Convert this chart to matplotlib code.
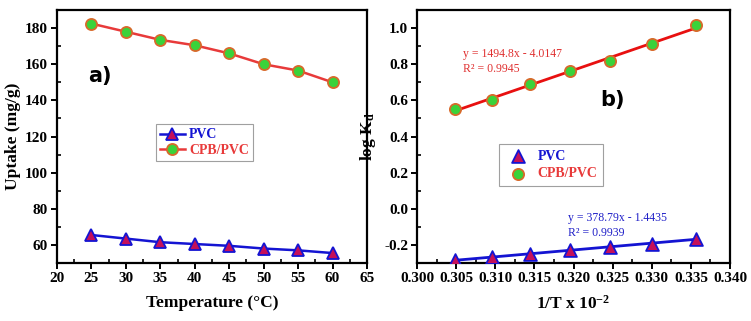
import matplotlib
matplotlib.use('Agg')
import matplotlib.pyplot as plt
from matplotlib.ticker import MultipleLocator, FormatStrFormatter
import numpy as np

plt.rcParams['font.family'] = ['Liberation Serif', 'DejaVu Serif']
plt.rcParams['font.weight'] = 'bold'
plt.rcParams['mathtext.fontset'] = 'custom'
plt.rcParams['mathtext.rm'] = 'Liberation Serif:bold'
plt.rcParams['mathtext.bf'] = 'Liberation Serif:bold'
plt.rcParams['mathtext.it'] = 'Liberation Serif:bold'

# (a) uptake vs temperature
temp = [25, 30, 35, 40, 45, 50, 55, 60]
uptake_pvc = [65.5, 63.5, 61.5, 60.5, 59.5, 58.0, 57.0, 55.5]
uptake_cpb = [182.5, 178.0, 173.5, 170.5, 166.0, 160.0, 156.5, 150.0]

# (b) van't Hoff plot
inv_t = [0.3049, 0.3096, 0.3145, 0.3195, 0.3247, 0.3300, 0.3356]
logkd_pvc = [-0.285, -0.265, -0.25, -0.23, -0.21, -0.195, -0.165]
logkd_cpb = [0.555, 0.60, 0.69, 0.765, 0.82, 0.91, 1.015]

eq_cpb = 'y = 1494.8x - 4.0147\nR² = 0.9945'
eq_pvc = 'y = 378.79x - 1.4435\nR² = 0.9939'

blue = '#1414d2'
red = '#e83a3a'
tri_fill = '#c4105a'
circ_fill = '#3ad23a'
circ_edge = '#d8692a'

fig = plt.figure(figsize=(7.51, 3.21), dpi=100)
ax1 = fig.add_axes([0.0759, 0.1807, 0.4128, 0.788])
ax2 = fig.add_axes([0.5553, 0.1807, 0.4168, 0.788])


def style(ax):
    for s in ax.spines.values():
        s.set_linewidth(1.6)
    ax.tick_params(which='major', direction='out', length=4, width=1.4,
                   labelsize=11, pad=2.5, top=False, right=False)
    ax.tick_params(which='minor', direction='in', length=3, width=1.2,
                   top=False, right=False)
    for lab in ax.get_xticklabels() + ax.get_yticklabels():
        lab.set_fontweight('bold')


ax1.plot(temp, uptake_pvc, color=blue, lw=1.8, marker='^', ms=9,
         mfc=tri_fill, mec=blue, mew=1.3, label='PVC')
ax1.plot(temp, uptake_cpb, color=red, lw=1.8, marker='o', ms=8,
         mfc=circ_fill, mec=circ_edge, mew=1.3, label='CPB/PVC')
ax1.set_xlim(20, 65)
ax1.set_ylim(50, 190)
ax1.xaxis.set_major_locator(MultipleLocator(5))
ax1.xaxis.set_minor_locator(MultipleLocator(2.5))
ax1.yaxis.set_major_locator(MultipleLocator(20))
ax1.yaxis.set_minor_locator(MultipleLocator(10))
style(ax1)
ax1.set_xlabel('Temperature (°C)', fontsize=12.5, fontweight='bold', labelpad=7)
ax1.set_ylabel('Uptake (mg/g)', fontsize=12.5, fontweight='bold', labelpad=3)
ax1.text(0.1, 0.74, 'a)', transform=ax1.transAxes, fontsize=15,
         fontweight='bold', family='DejaVu Sans', va='center')
leg1 = ax1.legend(loc='center', bbox_to_anchor=(0.475, 0.475), fontsize=10,
                  frameon=True, fancybox=False, handlelength=1.8,
                  handletextpad=0.3, borderpad=0.3, labelspacing=0.2,
                  borderaxespad=0)
leg1.get_frame().set_edgecolor('#888888')
leg1.get_frame().set_linewidth(0.8)
for t, c in zip(leg1.get_texts(), [blue, red]):
    t.set_color(c)

# linear fits
for y, c in [(logkd_pvc, blue), (logkd_cpb, '#e81010')]:
    p = np.polyfit(inv_t, y, 1)
    xs = np.array([inv_t[0], inv_t[-1]])
    ax2.plot(xs, np.polyval(p, xs), color=c, lw=2.0, zorder=2)
ax2.scatter(inv_t, logkd_pvc, marker='^', s=85, c=tri_fill, edgecolors=blue,
            linewidths=1.3, zorder=3, label='PVC')
ax2.scatter(inv_t, logkd_cpb, marker='o', s=65, c=circ_fill,
            edgecolors=circ_edge, linewidths=1.3, zorder=3, label='CPB/PVC')
ax2.set_xlim(0.300, 0.340)
ax2.set_ylim(-0.3, 1.1)
ax2.xaxis.set_major_locator(MultipleLocator(0.005))
ax2.xaxis.set_minor_locator(MultipleLocator(0.0025))
ax2.xaxis.set_major_formatter(FormatStrFormatter('%.3f'))
ax2.yaxis.set_major_locator(MultipleLocator(0.2))
ax2.yaxis.set_minor_locator(MultipleLocator(0.1))
ax2.yaxis.set_major_formatter(FormatStrFormatter('%.1f'))
style(ax2)
ax2.set_xlabel(r'1/T x 10$^{-2}$', fontsize=12.5, fontweight='bold', labelpad=7)
ax2.set_ylabel(r'log K$_\mathbf{d}$', fontsize=12.5, fontweight='bold', labelpad=4)
ax2.text(0.585, 0.645, 'b)', transform=ax2.transAxes, fontsize=15,
         fontweight='bold', family='DejaVu Sans', va='center')
ax2.text(0.147, 0.85, eq_cpb, transform=ax2.transAxes, fontsize=8.5,
         fontweight='normal', color='#e03030', va='top', linespacing=1.3)
ax2.text(0.482, 0.2, eq_pvc, transform=ax2.transAxes, fontsize=8.5,
         fontweight='normal', color='#2020c8', va='top', linespacing=1.3)
leg2 = ax2.legend(loc='center', bbox_to_anchor=(0.428, 0.387), fontsize=10,
                  frameon=True, fancybox=False, handletextpad=0.4,
                  borderpad=0.4, labelspacing=0.3, borderaxespad=0)
leg2.get_frame().set_edgecolor('#888888')
leg2.get_frame().set_linewidth(0.8)
for t, c in zip(leg2.get_texts(), [blue, red]):
    t.set_color(c)

fig.savefig('out.png', dpi=100)
